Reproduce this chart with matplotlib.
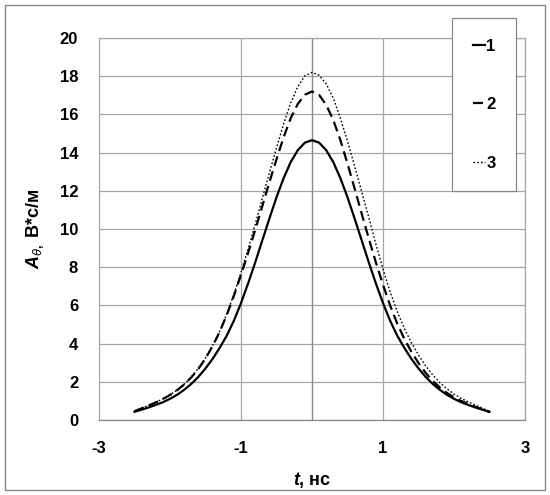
import matplotlib
matplotlib.use("Agg")
import matplotlib.pyplot as plt
from matplotlib.patches import Rectangle

plt.rcParams['font.family'] = ['Liberation Sans', 'DejaVu Sans']
plt.rcParams['axes.unicode_minus'] = False
plt.rcParams['mathtext.fontset'] = 'custom'
plt.rcParams['mathtext.rm'] = 'Liberation Sans:bold'
plt.rcParams['mathtext.bf'] = 'Liberation Sans:bold'
plt.rcParams['mathtext.it'] = 'Liberation Sans:italic'
plt.rcParams['mathtext.bfit'] = 'Liberation Sans:bold:italic'

# time, ns
t = [-2.5, -2.4, -2.3, -2.2, -2.1, -2.0, -1.9, -1.8, -1.7, -1.6, -1.5, -1.4, -1.3,
     -1.2, -1.1, -1.0, -0.9, -0.8, -0.7, -0.6, -0.5, -0.4, -0.3, -0.2, -0.1, 0.0,
     0.1, 0.2, 0.3, 0.4, 0.5, 0.6, 0.7, 0.8, 0.9, 1.0, 1.1, 1.2, 1.3, 1.4, 1.5,
     1.6, 1.7, 1.8, 1.9, 2.0, 2.1, 2.2, 2.3, 2.4, 2.5]

curve1 = [0.43, 0.54, 0.66, 0.79, 0.93, 1.11, 1.32, 1.58, 1.89, 2.26, 2.70, 3.20, 3.78,
          4.42, 5.20, 6.12, 7.15, 8.25, 9.40, 10.55, 11.66, 12.66, 13.50, 14.13, 14.52, 14.65,
          14.52, 14.13, 13.50, 12.66, 11.66, 10.55, 9.40, 8.25, 7.15, 6.12, 5.20, 4.42, 3.78, 3.20, 2.70,
          2.26, 1.89, 1.58, 1.32, 1.11, 0.93, 0.79, 0.66, 0.54, 0.43]

curve2 = [0.46, 0.61, 0.76, 0.92, 1.10, 1.31, 1.56, 1.86, 2.23, 2.68, 3.22, 3.87, 4.62,
          5.50, 6.50, 7.60, 8.75, 9.95, 11.20, 12.45, 13.65, 14.80, 15.80, 16.55, 17.03, 17.20,
          17.02, 16.50, 15.70, 14.65, 13.42, 12.12, 10.80, 9.50, 8.25, 7.08, 6.00, 5.05, 4.25, 3.57, 2.98,
          2.47, 2.05, 1.70, 1.42, 1.19, 1.00, 0.84, 0.69, 0.55, 0.42]

curve3 = [0.47, 0.62, 0.77, 0.93, 1.11, 1.32, 1.57, 1.88, 2.25, 2.70, 3.25, 3.90, 4.65,
          5.55, 6.58, 7.72, 8.95, 10.25, 11.60, 12.95, 14.25, 15.50, 16.60, 17.45, 18.02, 18.20,
          18.05, 17.60, 16.85, 15.80, 14.60, 13.30, 11.95, 10.60, 9.20, 7.90, 6.72, 5.68, 4.80, 4.05, 3.40,
          2.84, 2.36, 1.96, 1.63, 1.36, 1.14, 0.95, 0.78, 0.62, 0.46]

labels = ['1', '2', '3']
xticks = [-3, -1, 1, 3]
yticks = [0, 2, 4, 6, 8, 10, 12, 14, 16, 18, 20]

fig = plt.figure(figsize=(5.5, 4.95), dpi=100)
fig.patches.append(Rectangle((5/550, 5/495), 540/550, 485/495, transform=fig.transFigure,
                             fill=False, edgecolor='#888888', linewidth=1.0))
ax = fig.add_axes([99/550, 1-420/495, 426/550, 382/495])

grid_c = '#a6a6a6'
ax.set_xlim(-3, 3)
ax.set_ylim(0, 20)
ax.set_xticks(xticks)
ax.set_yticks(yticks)
for y in yticks:
    ax.axhline(y, color=grid_c, lw=0.9, zorder=1)
for x in [-1, 1, 3]:
    ax.axvline(x, color=grid_c, lw=0.9, zorder=1)
ax.axvline(0, color='#888888', lw=1.0, zorder=1)
for s in ax.spines.values():
    s.set_color(grid_c)
    s.set_linewidth(0.9)
ax.spines['bottom'].set_color('#888888')

ax.tick_params(length=0, labelsize=12)
ax.tick_params(axis='y', pad=15)
ax.tick_params(axis='x', pad=15)
for lab in ax.get_xticklabels() + ax.get_yticklabels():
    lab.set_fontweight('bold')

l1, = ax.plot(t, curve1, color='black', lw=1.6, ls='-', zorder=3)
l2, = ax.plot(t, curve2, color='black', lw=1.6, ls=(0, (4.5, 2.5)), zorder=3)
l3, = ax.plot(t, curve3, color='black', lw=1.0, ls=(0, (1.2, 1.5)), zorder=3)

ax.set_xlabel(r'$\mathbfit{t}$, нс', fontsize=13, fontweight='bold', labelpad=10)
ax.set_ylabel(r'$\mathbfit{A}_{\mathit{\theta},}$ В*с/м', fontsize=13, fontweight='bold', labelpad=10)

leg = fig.legend([l1, l2, l3], labels, loc='upper left',
                 bbox_to_anchor=(452/550, 1-18/495), bbox_transform=fig.transFigure,
                 frameon=True, fancybox=False, edgecolor='#888888', framealpha=1.0,
                 prop={'weight': 'bold', 'size': 12}, handlelength=0.75, handletextpad=0.05,
                 labelspacing=2.6, borderpad=1.25, borderaxespad=0)
leg.get_frame().set_linewidth(0.9)

fig.savefig('out.png', dpi=100)
